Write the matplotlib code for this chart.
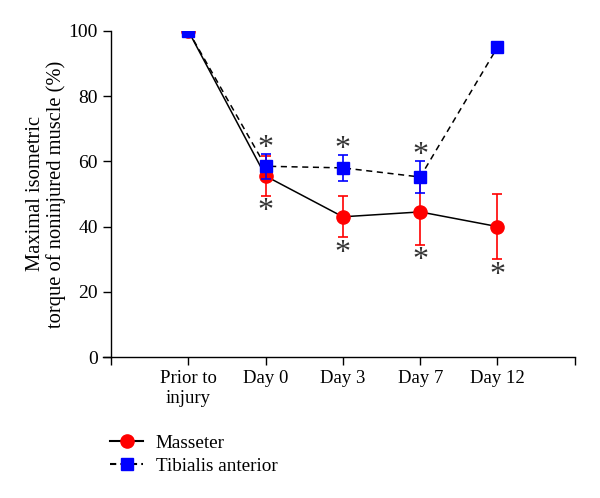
import matplotlib
matplotlib.use("Agg")
import matplotlib.pyplot as plt

categories = ["Prior to\ninjury", "Day 0", "Day 3", "Day 7", "Day 12"]
masseter_mean = [100, 55.5, 43, 44.5, 40]
masseter_err = [0, 6, 6.3, 10, 10]
tibialis_mean = [100, 58.5, 58, 55.2, 95]
tibialis_err = [0.8, 3.8, 4, 5, 1]
masseter_sig = [False, True, True, True, True]
tibialis_sig = [False, True, True, True, False]

plt.rcParams['font.family'] = ['Liberation Serif', 'DejaVu Serif']

fig = plt.figure(figsize=(6, 4.98), dpi=100)
ax = fig.add_axes([0.185, 0.283, 0.773, 0.655])

x = list(range(1, len(categories) + 1))

ax.errorbar(x, masseter_mean, yerr=masseter_err, fmt='none', ecolor='red',
            elinewidth=1.2, capsize=3.6, capthick=1.2, zorder=2)
ax.plot(x, masseter_mean, color='black', lw=1.1, ls='-', zorder=3)
ax.plot(x, masseter_mean, ls='none', marker='o', ms=9.5, color='red',
        mec='red', zorder=4)
ax.errorbar(x, tibialis_mean, yerr=tibialis_err, fmt='none', ecolor='blue',
            elinewidth=1.2, capsize=3.6, capthick=1.2, zorder=5)
ax.plot(x, tibialis_mean, color='black', lw=1.1, ls=(0, (4, 3)), zorder=6)
ax.plot(x, tibialis_mean, ls='none', marker='s', ms=8.5, color='blue',
        mec='blue', zorder=7)

for xi, m, e, s in zip(x, masseter_mean, masseter_err, masseter_sig):
    if s:
        ax.annotate("*", (xi, m - e), xytext=(0, -11.5), textcoords='offset points',
                    ha='center', va='center', fontsize=23, color='#333333')
for xi, m, e, s in zip(x, tibialis_mean, tibialis_err, tibialis_sig):
    if s:
        ax.annotate("*", (xi, m + e), xytext=(0, 3.5), textcoords='offset points',
                    ha='center', va='center', fontsize=23, color='#333333')

ax.set_xlim(0, 6)
ax.set_ylim(0, 100)
ax.set_xticks(range(0, 7))
ax.set_xticklabels([""] + categories + [""], fontsize=13.5)
ax.set_yticks([0, 20, 40, 60, 80, 100])
ax.tick_params(axis='both', direction='out', length=5.5, width=1, labelsize=13.5, pad=4)
ax.tick_params(axis='y', labelsize=14)
ax.spines['top'].set_visible(False)
ax.spines['right'].set_visible(False)
ax.spines['left'].set_linewidth(1)
ax.spines['bottom'].set_linewidth(1)
ax.spines['bottom'].set_bounds(-0.1, 6)
ax.set_ylabel("Maximal isometric\ntorque of noninjured muscle (%)", fontsize=14.8,
              labelpad=1.5, linespacing=1.1)

h1, = ax.plot([], [], color='black', ls='-', marker='o', ms=9.5, mfc='red', mec='red')
h2, = ax.plot([], [], color='black', ls=(0, (3, 2)), marker='s', ms=8, mfc='blue', mec='blue')
fig.legend([h1, h2], ["Masseter", "Tibialis anterior"], loc='upper left',
           bbox_to_anchor=(0.183, 0.128), frameon=False, fontsize=13.8,
           handlelength=1.75, labelspacing=0.3, handletextpad=0.65,
           borderaxespad=0, borderpad=0)

fig.savefig("out.png", dpi=100)
